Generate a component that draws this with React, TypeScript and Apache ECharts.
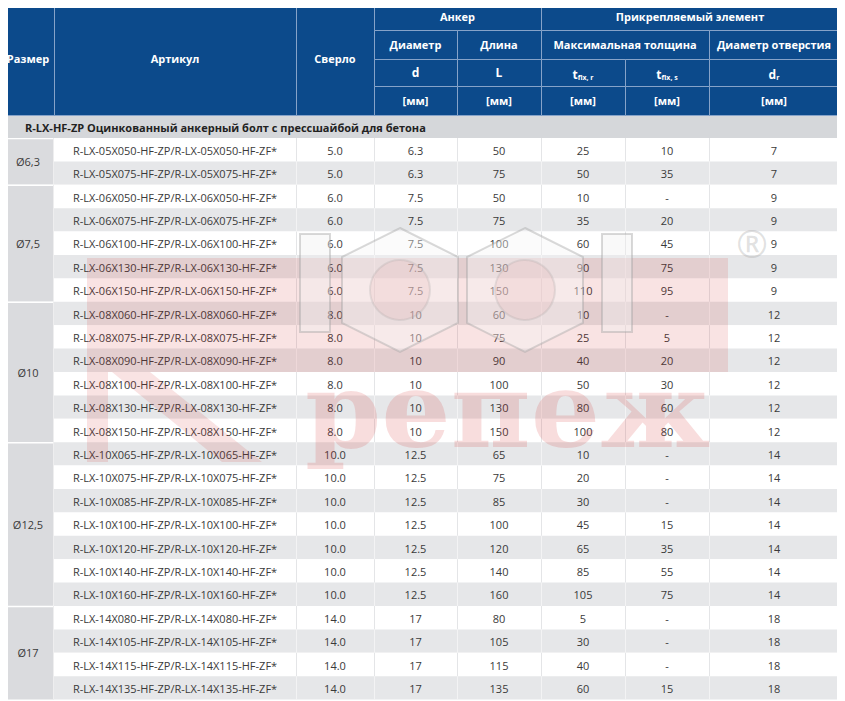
import React, { useEffect, useRef } from "react";
import * as echarts from "echarts";

// ---------- data ----------
const sectionTitle = "R-LX-HF-ZP Оцинкованный анкерный болт с прессшайбой для бетона";
const headerMain = ["Размер", "Артикул", "Сверло"];
const headerGroups = ["Анкер", "Прикрепляемый элемент"];
const headerSub = ["Диаметр", "Длина", "Максимальная толщина", "Диаметр отверстия"];
const headerSymbols = [
  { main: "d", sub: "" },
  { main: "L", sub: "" },
  { main: "t", sub: "fix, r" },
  { main: "t", sub: "fix, s" },
  { main: "d", sub: "r" },
];
const headerUnits = ["[мм]", "[мм]", "[мм]", "[мм]", "[мм]"];

const sizes = ["Ø6,3", "Ø7,5", "Ø10", "Ø12,5", "Ø17"];
const sizeRowCounts = [2, 5, 6, 7, 4];

const articleCodes = [
  "05X050", "05X075",
  "06X050", "06X075", "06X100", "06X130", "06X150",
  "08X060", "08X075", "08X090", "08X100", "08X130", "08X150",
  "10X065", "10X075", "10X085", "10X100", "10X120", "10X140", "10X160",
  "14X080", "14X105", "14X115", "14X135",
];
const drill = [
  "5.0", "5.0",
  "6.0", "6.0", "6.0", "6.0", "6.0",
  "8.0", "8.0", "8.0", "8.0", "8.0", "8.0",
  "10.0", "10.0", "10.0", "10.0", "10.0", "10.0", "10.0",
  "14.0", "14.0", "14.0", "14.0",
];
const anchorDiameter = [
  "6.3", "6.3",
  "7.5", "7.5", "7.5", "7.5", "7.5",
  "10", "10", "10", "10", "10", "10",
  "12.5", "12.5", "12.5", "12.5", "12.5", "12.5", "12.5",
  "17", "17", "17", "17",
];
const anchorLength = [50, 75, 50, 75, 100, 130, 150, 60, 75, 90, 100, 130, 150, 65, 75, 85, 100, 120, 140, 160, 80, 105, 115, 135];
const tFixR = [25, 50, 10, 35, 60, 90, 110, 10, 25, 40, 50, 80, 100, 10, 20, 30, 45, 65, 85, 105, 5, 30, 40, 60];
const tFixS: (number | null)[] = [10, 35, null, 20, 45, 75, 95, null, 5, 20, 30, 60, 80, null, null, null, 15, 35, 55, 75, null, null, null, 15];
const holeDiameter = [7, 7, 9, 9, 9, 9, 9, 12, 12, 12, 12, 12, 12, 14, 14, 14, 14, 14, 14, 14, 18, 18, 18, 18];

// ---------- layout ----------
const W = 845;
const H = 701;
const COLS = [2, 54, 296, 374, 457, 541, 625, 709, 839];
const HROWS = [2, 30, 59, 86, 115];
const SEC_Y0 = 115;
const SEC_Y1 = 138;
const ROW0 = 138;
const RH = 23.4;

const HEADER_BG = "#0c4a8b";
const HEADER_LINE = "#86a3c9";
const FONT = '"Open Sans", "Noto Sans", sans-serif';
const TXT = "#3a3a3a";

const article = (i: number) => `R-LX-${articleCodes[i]}-HF-ZP/R-LX-${articleCodes[i]}-HF-ZF*`;

type HCell = { c0: number; c1: number; r0: number; r1: number; kind: string; idx: number };
const headerCells: HCell[] = [];
headerMain.forEach((_, k) => headerCells.push({ c0: k, c1: k + 1, r0: 0, r1: 4, kind: "main", idx: k }));
headerCells.push({ c0: 3, c1: 5, r0: 0, r1: 1, kind: "group", idx: 0 });
headerCells.push({ c0: 5, c1: 8, r0: 0, r1: 1, kind: "group", idx: 1 });
const subSpans = [[3, 4], [4, 5], [5, 7], [7, 8]];
headerSub.forEach((_, k) => headerCells.push({ c0: subSpans[k][0], c1: subSpans[k][1], r0: 1, r1: 2, kind: "sub", idx: k }));
headerSymbols.forEach((_, k) => headerCells.push({ c0: 3 + k, c1: 4 + k, r0: 2, r1: 3, kind: "sym", idx: k }));
headerUnits.forEach((_, k) => headerCells.push({ c0: 3 + k, c1: 4 + k, r0: 3, r1: 4, kind: "unit", idx: k }));

const groupStarts: number[] = [];
{
  let acc = 0;
  sizeRowCounts.forEach((n) => {
    groupStarts.push(acc);
    acc += n;
  });
}

export default function App() {
  const ref = useRef<HTMLDivElement>(null);

  useEffect(() => {
    if (!ref.current) return;
    const chart = echarts.init(ref.current, null, { renderer: "svg" });

    const rowsSeries = {
      type: "custom",
      name: "rows",
      clip: false,
      silent: true,
      data: articleCodes.map((_, i) => [i, anchorLength[i], tFixR[i], holeDiameter[i]]),
      renderItem: (params: any, api: any) => {
        const i = api.value(0);
        const y0 = ROW0 + i * RH;
        const y1 = y0 + RH;
        const p0 = api.coord([COLS[1], y0]);
        const p1 = api.coord([COLS[8], y1]);
        const even = i % 2 === 0;
        const children: any[] = [
          {
            type: "rect",
            shape: { x: p0[0], y: p0[1], width: p1[0] - p0[0], height: p1[1] - p0[1] },
            style: { fill: even ? "#ffffff" : "#e6e7e9" },
          },
        ];
        for (let k = 2; k <= 7; k++) {
          const a = api.coord([COLS[k], y0]);
          const b = api.coord([COLS[k], y1]);
          children.push({
            type: "line",
            shape: { x1: a[0] + 0.5, y1: a[1], x2: b[0] + 0.5, y2: b[1] },
            style: { stroke: even ? "#e4e5e7" : "#f3f3f4", lineWidth: 1 },
          });
        }
        const texts = [
          article(i),
          drill[i],
          anchorDiameter[i],
          String(anchorLength[i]),
          String(tFixR[i]),
          tFixS[i] == null ? "-" : String(tFixS[i]),
          String(holeDiameter[i]),
        ];
        texts.forEach((t, k) => {
          const c = api.coord([(COLS[k + 1] + COLS[k + 2]) / 2, (y0 + y1) / 2]);
          children.push({
            type: "text",
            style: {
              text: t,
              x: c[0],
              y: c[1] + 0.5,
              align: "center",
              verticalAlign: "middle",
              font: `11px ${FONT}`,
              fill: TXT,
            },
          });
        });
        return { type: "group", children };
      },
    };

    const sizeSeries = {
      type: "custom",
      name: "sizes",
      clip: false,
      silent: true,
      data: sizes.map((_, g) => [g, sizeRowCounts[g]]),
      renderItem: (params: any, api: any) => {
        const g = api.value(0);
        const n = api.value(1);
        const y0 = ROW0 + groupStarts[g] * RH;
        const y1 = y0 + n * RH;
        const p0 = api.coord([COLS[0], y0]);
        const p1 = api.coord([COLS[1], y1]);
        const c = api.coord([(COLS[0] + COLS[1]) / 2, (y0 + y1) / 2]);
        return {
          type: "group",
          children: [
            {
              type: "rect",
              shape: { x: p0[0], y: p0[1], width: p1[0] - p0[0], height: p1[1] - p0[1] },
              style: { fill: "#dadbde" },
            },
            {
              type: "line",
              shape: { x1: p0[0], y1: p0[1] + 0.5, x2: p1[0], y2: p0[1] + 0.5 },
              style: { stroke: "#ffffff", lineWidth: 1.5 },
            },
            {
              type: "line",
              shape: { x1: p1[0] - 0.5, y1: p0[1], x2: p1[0] - 0.5, y2: p1[1] },
              style: { stroke: "#eeeeef", lineWidth: 1 },
            },
            {
              type: "text",
              style: {
                text: sizes[g],
                x: c[0],
                y: c[1],
                align: "center",
                verticalAlign: "middle",
                font: `11px ${FONT}`,
                fill: TXT,
              },
            },
          ],
        };
      },
    };

    const sectionSeries = {
      type: "custom",
      name: "section",
      clip: false,
      silent: true,
      data: [[0]],
      renderItem: (params: any, api: any) => {
        const p0 = api.coord([COLS[0], SEC_Y0]);
        const p1 = api.coord([COLS[8], SEC_Y1]);
        const c = api.coord([(COLS[0] + COLS[8]) / 2, (SEC_Y0 + SEC_Y1) / 2]);
        return {
          type: "group",
          children: [
            {
              type: "rect",
              shape: { x: p0[0], y: p0[1], width: p1[0] - p0[0], height: p1[1] - p0[1] },
              style: { fill: "#d5d7da" },
            },
            {
              type: "text",
              style: {
                text: sectionTitle,
                x: p0[0] + 23,
                y: c[1] + 0.5,
                align: "left",
                verticalAlign: "middle",
                font: `bold 11px ${FONT}`,
                fill: "#222222",
              },
            },
          ],
        };
      },
    };

    const headerSeries = {
      type: "custom",
      name: "header",
      clip: false,
      silent: true,
      data: headerCells.map((_, i) => [i]),
      renderItem: (params: any, api: any) => {
        const cell = headerCells[api.value(0)];
        const x0 = COLS[cell.c0];
        const x1 = COLS[cell.c1];
        const y0 = HROWS[cell.r0];
        const y1 = HROWS[cell.r1];
        const p0 = api.coord([x0, y0]);
        const p1 = api.coord([x1, y1]);
        const c = api.coord([(x0 + x1) / 2, (y0 + y1) / 2]);
        const children: any[] = [
          {
            type: "rect",
            shape: { x: p0[0] + 0.5, y: p0[1] + 0.5, width: p1[0] - p0[0], height: p1[1] - p0[1] },
            style: { fill: HEADER_BG, stroke: HEADER_LINE, lineWidth: 1 },
          },
        ];
        let label: any;
        if (cell.kind === "sym") {
          const s = headerSymbols[cell.idx];
          label = {
            type: "text",
            style: {
              text: s.sub ? `{m|${s.main}}{s|${s.sub}}` : `{m|${s.main}}`,
              x: c[0],
              y: c[1] + (s.sub ? 2 : 0),
              align: "center",
              verticalAlign: "middle",
              rich: {
                m: { font: `bold 12px ${FONT}`, fill: "#ffffff", verticalAlign: "bottom" },
                s: { font: `bold 7px ${FONT}`, fill: "#ffffff", verticalAlign: "bottom" },
              },
            },
          };
        } else {
          const t =
            cell.kind === "main"
              ? headerMain[cell.idx]
              : cell.kind === "group"
              ? headerGroups[cell.idx]
              : cell.kind === "sub"
              ? headerSub[cell.idx]
              : headerUnits[cell.idx];
          label = {
            type: "text",
            style: {
              text: t,
              x: c[0],
              y: c[1],
              align: "center",
              verticalAlign: "middle",
              font: `bold 11px ${FONT}`,
              fill: "#ffffff",
            },
          };
        }
        children.push(label);
        return { type: "group", children };
      },
    };

    const red = "#d42a2a";
    const nutGray = "#a0a0a0";
    const watermark = [
      { type: "rect", shape: { x: 87, y: 258, width: 21, height: 204 }, style: { fill: red, opacity: 0.13 } },
      { type: "rect", shape: { x: 108, y: 258, width: 620, height: 114 }, style: { fill: red, opacity: 0.13 } },
      {
        type: "polygon",
        shape: { points: [[112, 372], [150, 372], [262, 462], [222, 462]] },
        style: { fill: red, opacity: 0.13 },
      },
      {
        type: "polygon",
        shape: { points: [[400, 228], [458, 257], [458, 323], [400, 352], [342, 323], [342, 257]] },
        style: { fill: "#f4f4f4", opacity: 0.4, stroke: nutGray, lineWidth: 2 },
      },
      { type: "circle", shape: { cx: 400, cy: 290, r: 30 }, style: { fill: "#e6b0b0", opacity: 0.22, stroke: nutGray, lineWidth: 2 } },
      {
        type: "polygon",
        shape: { points: [[525, 228], [583, 257], [583, 323], [525, 352], [467, 323], [467, 257]] },
        style: { fill: "#f4f4f4", opacity: 0.4, stroke: nutGray, lineWidth: 2 },
      },
      { type: "circle", shape: { cx: 525, cy: 290, r: 30 }, style: { fill: "#e6b0b0", opacity: 0.22, stroke: nutGray, lineWidth: 2 } },
      { type: "rect", shape: { x: 300, y: 234, width: 30, height: 98 }, style: { fill: "#f0f0f0", opacity: 0.4, stroke: nutGray, lineWidth: 2 } },
      { type: "rect", shape: { x: 602, y: 234, width: 30, height: 98 }, style: { fill: "#f0f0f0", opacity: 0.4, stroke: nutGray, lineWidth: 2 } },
      {
        type: "text",
        style: {
          text: "®",
          x: 752,
          y: 243,
          align: "center",
          verticalAlign: "middle",
          font: `38px ${FONT}`,
          fill: "#9a9a9a",
          opacity: 0.3,
        },
      },
      {
        type: "text",
        x: 305,
        y: 462,
        scaleX: 1.05,
        style: {
          text: "репеж",
          x: 0,
          y: 0,
          align: "left",
          verticalAlign: "bottom",
          font: 'bold 104px "DejaVu Serif", "Liberation Serif", serif',
          fill: red,
          opacity: 0.16,
        },
      },
    ].map((e: any) => ({ ...e, z: 100, silent: true }));

    chart.setOption({
      animation: false,
      backgroundColor: "#ffffff",
      grid: { left: 0, top: 0, right: 0, bottom: 0 },
      xAxis: { type: "value", min: 0, max: W, show: false },
      yAxis: { type: "value", min: 0, max: H, inverse: true, show: false },
      tooltip: { show: false },
      series: [rowsSeries, sizeSeries, sectionSeries, headerSeries],
      graphic: watermark,
    } as any);

    return () => chart.dispose();
  }, []);

  return <div ref={ref} style={{ width: W, height: H, margin: "-8px 0 0 -8px" }} />;
}
